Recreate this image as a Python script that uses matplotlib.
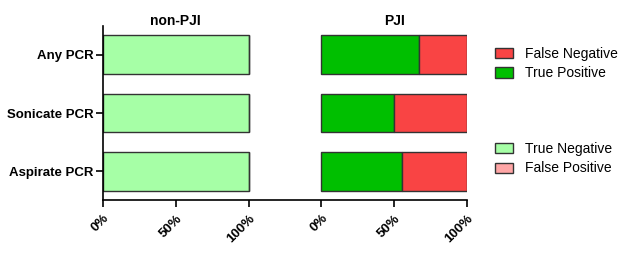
import numpy as np
import matplotlib
matplotlib.use("Agg")
import matplotlib.pyplot as plt
from matplotlib.patches import Patch

plt.rcParams["font.family"] = ["Liberation Sans", "DejaVu Sans"]

categories = ["Aspirate PCR", "Sonicate PCR", "Any PCR"]
nonpji_true_neg = [100, 100, 100]
nonpji_false_pos = [0, 0, 0]
pji_true_pos = [55.6, 50.0, 66.7]
pji_false_neg = [44.4, 50.0, 33.3]

tick_pos = [0, 50, 100, 150, 200, 250]
tick_labels = ["0%", "50%", "100%", "0%", "50%", "100%"]

c_tn = "#a6ffa6"
c_fp = "#ffa6a6"
c_tp = "#00bf00"
c_fn = "#f94444"
edge = "#333333"

fig = plt.figure(figsize=(6.3, 2.57), dpi=100)
ax = fig.add_axes([0.1635, 0.2218, 0.5778, 0.677])

y = np.arange(len(categories))
h = 0.667
offset = 150  # PJI panel starts at 150 on the shared axis

ax.barh(y, nonpji_true_neg, height=h, color=c_tn, edgecolor=edge, linewidth=1)
ax.barh(y, nonpji_false_pos, left=nonpji_true_neg, height=h, color=c_fp, edgecolor=edge, linewidth=1)
ax.barh(y, pji_true_pos, left=offset, height=h, color=c_tp, edgecolor=edge, linewidth=1)
ax.barh(y, pji_false_neg, left=offset + np.array(pji_true_pos), height=h, color=c_fn, edgecolor=edge, linewidth=1)

ax.set_xlim(0, 250)
ax.set_ylim(-0.49, 2.49)
ax.set_xticks(tick_pos)
ax.set_xticklabels(tick_labels, rotation=45, ha="right", va="top",
                   rotation_mode="anchor", fontweight="bold", fontsize=9.5)
ax.set_yticks(y)
ax.set_yticklabels(categories, fontweight="bold", fontsize=9.5)
ax.tick_params(axis="both", direction="out", length=5, width=1.2, color="black")
ax.tick_params(axis="x", pad=4)
ax.tick_params(axis="y", pad=2)

for s in ["top", "right"]:
    ax.spines[s].set_visible(False)
ax.spines["left"].set_linewidth(1.2)
ax.spines["bottom"].set_linewidth(1.2)

ax.text(50, 2.45, "non-PJI", ha="center", va="bottom", fontweight="bold", fontsize=10)
ax.text(200, 2.45, "PJI", ha="center", va="bottom", fontweight="bold", fontsize=10)

leg_kw = dict(loc="upper left", frameon=False, fontsize=10, handlelength=1.3,
              handleheight=0.75, labelspacing=0.42, handletextpad=0.85, borderpad=0)
leg1 = fig.legend(handles=[Patch(facecolor=c_fn, edgecolor=edge, label="False Negative"),
                           Patch(facecolor=c_tp, edgecolor=edge, label="True Positive")],
                  bbox_to_anchor=(0.775, 0.846), **leg_kw)
leg2 = fig.legend(handles=[Patch(facecolor=c_tn, edgecolor=edge, label="True Negative"),
                           Patch(facecolor=c_fp, edgecolor=edge, label="False Positive")],
                  bbox_to_anchor=(0.775, 0.476), **leg_kw)

fig.savefig("out.png", dpi=100)
